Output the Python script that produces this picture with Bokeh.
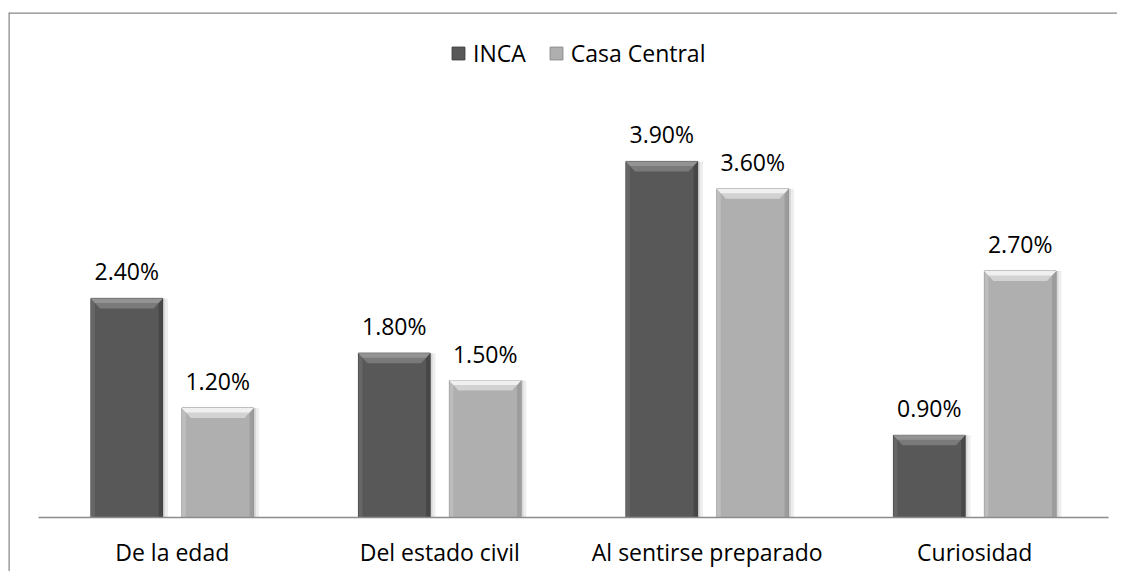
from bokeh.plotting import figure
from bokeh.models import ColumnDataSource, Range1d, Legend, LegendItem, Span
from bokeh.core.properties import value
from bokeh.embed import file_html
from bokeh.resources import INLINE

categories = ["De la edad", "Del estado civil", "Al sentirse preparado", "Curiosidad"]
inca = [2.4, 1.8, 3.9, 0.9]
casa_central = [1.2, 1.5, 3.6, 2.7]
series_names = ["INCA", "Casa Central"]

FONT = value("Open Sans")
FS = "23px"
BW = 0.268
OFF = 0.17

W, H = 1117, 571
LEFT, TOP = 8, 12
PX_X = 267.5
PX_Y = 91.3
x_start = -(38 - LEFT) / PX_X
x_end = (W - 38) / PX_X
y_start = -(H - 517) / PX_Y
y_end = (517 - TOP) / PX_Y

BEV_X = 9 / PX_X
BEV_Y = 10 / PX_Y
SIDE = 4 / PX_X

n = len(categories)
centers = [i + 0.5 for i in range(n)]

def fmt(v):
    return f"{v:.2f}%"

def bevel_shapes(xs, tops):
    top_xs, top_ys, hi_xs, hi_ys = [], [], [], []
    for x, t in zip(xs, tops):
        xl, xr = x - BW / 2, x + BW / 2
        top_xs.append([xl, xr, xr - BEV_X, xl + BEV_X])
        top_ys.append([t, t, t - BEV_Y, t - BEV_Y])
        hi_xs.append([xl, xr, xr - BEV_X * 0.45, xl + BEV_X * 0.45])
        hi_ys.append([t, t, t - BEV_Y * 0.45, t - BEV_Y * 0.45])
    return top_xs, top_ys, hi_xs, hi_ys

p = figure(
    x_range=Range1d(x_start, x_end),
    y_range=Range1d(y_start, y_end),
    width=W, height=H,
    output_backend="svg", toolbar_location=None,
    x_axis_location=None, y_axis_location=None,
    min_border_left=LEFT, min_border_right=0, min_border_top=TOP, min_border_bottom=0,
)
p.outline_line_color = None
p.background_fill_color = "white"
p.border_fill_color = "white"
p.xgrid.visible = False
p.ygrid.visible = False

styles = [
    dict(body="#585858", bev="#7a7a7a", hi="#939393", edge="#3a3a3a", lside="#666666", rside="#474747"),
    dict(body="#afafaf", bev="#d2d2d2", hi="#f0f0f0", edge="#8a8a8a", lside="#bdbdbd", rside="#9c9c9c"),
]
series_vals = [inca, casa_central]
offsets = [-OFF, OFF]

main_renderers = []
for name, vals, off, st in zip(series_names, series_vals, offsets, styles):
    xs = [c + off for c in centers]
    s = ColumnDataSource(dict(
        x=xs, top=vals,
        x_sh1=[x + 0.014 for x in xs], x_sh2=[x + 0.007 for x in xs],
        xl=[x - BW / 2 + SIDE / 2 for x in xs], xr=[x + BW / 2 - SIDE / 2 for x in xs],
        lbl=[fmt(v) for v in vals],
    ))
    # soft shadow
    p.vbar(x="x_sh1", top="top", bottom=0, width=BW + 0.012, source=s,
           fill_color="#000000", fill_alpha=0.07, line_color=None)
    p.vbar(x="x_sh2", top="top", bottom=0, width=BW + 0.004, source=s,
           fill_color="#000000", fill_alpha=0.09, line_color=None)
    r = p.vbar(x="x", top="top", bottom=0, width=BW, source=s,
               fill_color=st["body"], line_color=st["edge"], line_width=1)
    main_renderers.append(r)
    # side bevels
    p.vbar(x="xl", top="top", bottom=0, width=SIDE, source=s,
           fill_color=st["lside"], line_color=None)
    p.vbar(x="xr", top="top", bottom=0, width=SIDE, source=s,
           fill_color=st["rside"], line_color=None)
    # top bevel
    txs, tys, hxs, hys = bevel_shapes(xs, vals)
    p.patches(xs=txs, ys=tys, fill_color=st["bev"], line_color=None)
    p.patches(xs=hxs, ys=hys, fill_color=st["hi"], line_color=None)
    p.text(x="x", y="top", text="lbl", source=s,
           text_align="center", text_baseline="alphabetic", y_offset=-27,
           text_font=FONT, text_font_size=FS, text_color="#000000")

src = ColumnDataSource(dict(cat=categories, xc=centers, zero=[0.0] * n))
# category axis line and labels
p.segment(x0=[0], x1=[n], y0=[0], y1=[0], line_color="#8c8c8c", line_width=1.5)
p.text(x="xc", y="zero", text="cat", source=src,
       text_align="center", text_baseline="alphabetic", y_offset=34,
       text_font=FONT, text_font_size=FS, text_color="#000000")

# chart border (left and top)
p.add_layout(Span(location=x_start, dimension="height", line_color="#878787", line_width=2.5))
p.add_layout(Span(location=y_end, dimension="width", line_color="#878787", line_width=2.5))

legend = Legend(
    items=[LegendItem(label=series_names[0], renderers=[main_renderers[0]]),
           LegendItem(label=series_names[1], renderers=[main_renderers[1]])],
    orientation="horizontal",
    location=(442, 502),
    border_line_color=None,
    background_fill_alpha=0,
    label_text_font="Open Sans",
    label_text_font_size=FS,
    label_text_color="#000000",
    glyph_width=16, glyph_height=16,
    label_height=24,
    label_standoff=7,
    spacing=22,
    padding=0, margin=0,
)
p.add_layout(legend, "center")

open("out.html", "w").write(file_html(p, INLINE))
